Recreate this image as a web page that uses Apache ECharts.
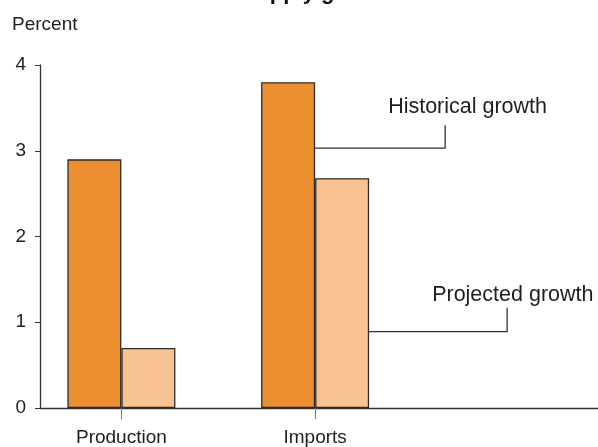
<!DOCTYPE html>
<html>
<head>
<meta charset="utf-8">
<script src="https://cdn.jsdelivr.net/npm/echarts@6/dist/echarts.min.js"></script>
<style>
  html, body { margin: 0; padding: 0; background: #fff; }
  #chart { width: 598px; height: 447px; }
</style>
</head>
<body>
<div id="chart"></div>
<script>
var categories = ['Production', 'Imports'];
var historical = [2.9, 3.8];
var projected = [0.7, 2.68];

var FONT = '"Liberation Sans", Arial, sans-serif';

function pairs(values) {
    var ret = [];
    for (var i = 0; i < values.length; i++) {
        ret.push([i, values[i]]);
    }
    return ret;
}

var myChart = echarts.init(document.getElementById('chart'));

var option = {
    animation: false,
    textStyle: { fontFamily: FONT },
    grid: { left: 40, right: 0, top: 65, bottom: 39 },
    xAxis: {
        type: 'value',
        min: -0.42,
        max: 2.46,
        axisLine: { show: true, lineStyle: { color: '#333', width: 1.3 } },
        axisTick: {
            show: true,
            customValues: [0, 1],
            length: 11,
            lineStyle: { color: '#777', width: 1 }
        },
        axisLabel: {
            customValues: [0, 1],
            margin: 20,
            fontSize: 19,
            color: '#1e1e1e',
            fontFamily: FONT,
            formatter: function (v) { return categories[Math.round(v)]; }
        },
        splitLine: { show: false }
    },
    yAxis: {
        type: 'value',
        min: 0,
        max: 4,
        interval: 1,
        axisLine: { show: true, onZero: false, lineStyle: { color: '#333', width: 1.3 } },
        axisTick: { show: true, inside: false, length: 5, lineStyle: { color: '#333' } },
        axisLabel: { margin: 14, fontSize: 19, color: '#1e1e1e', fontFamily: FONT },
        splitLine: { show: false }
    },
    series: [{
        name: 'Historical growth',
        type: 'bar',
        data: pairs(historical),
        barWidth: 54,
        barGap: '0%',
        itemStyle: { color: '#ec8f31', borderColor: '#2b2b2b', borderWidth: 1.3 }
    }, {
        name: 'Projected growth',
        type: 'bar',
        data: pairs(projected),
        barWidth: 54,
        barGap: '0%',
        itemStyle: { color: '#f8c393', borderColor: '#2b2b2b', borderWidth: 1.3 }
    }]
};

myChart.setOption(option);

// annotations anchored on the Imports bars
var histAnchor = myChart.convertToPixel({ gridIndex: 0 }, [1, 3.03]);
var projAnchor = myChart.convertToPixel({ gridIndex: 0 }, [1, 0.89]);
projAnchor[0] += 54;

myChart.setOption({
    graphic: [{
        type: 'text',
        x: 318,
        y: 4,
        style: {
            text: 'Supply growth',
            fontFamily: FONT,
            fontSize: 22,
            fontWeight: 'bold',
            fill: '#111',
            align: 'center',
            verticalAlign: 'bottom'
        }
    }, {
        type: 'text',
        x: 12,
        y: 25,
        style: { text: 'Percent', fontFamily: FONT, fontSize: 19, fill: '#1e1e1e', verticalAlign: 'middle' }
    }, {
        type: 'polyline',
        shape: { points: [histAnchor, [histAnchor[0] + 130, histAnchor[1]], [histAnchor[0] + 130, histAnchor[1] - 23]] },
        style: { stroke: '#333', lineWidth: 1.3, fill: null }
    }, {
        type: 'text',
        x: histAnchor[0] + 73,
        y: histAnchor[1] - 41,
        style: { text: 'Historical growth', fontFamily: FONT, fontSize: 21.5, fill: '#1e1e1e', verticalAlign: 'middle' }
    }, {
        type: 'polyline',
        shape: { points: [projAnchor, [projAnchor[0] + 138, projAnchor[1]], [projAnchor[0] + 138, projAnchor[1] - 24]] },
        style: { stroke: '#333', lineWidth: 1.3, fill: null }
    }, {
        type: 'text',
        x: projAnchor[0] + 63,
        y: projAnchor[1] - 37,
        style: { text: 'Projected growth', fontFamily: FONT, fontSize: 21.5, fill: '#1e1e1e', verticalAlign: 'middle' }
    }]
});

window.addEventListener('resize', function () {
    myChart.resize();
});
</script>
</body>
</html>
